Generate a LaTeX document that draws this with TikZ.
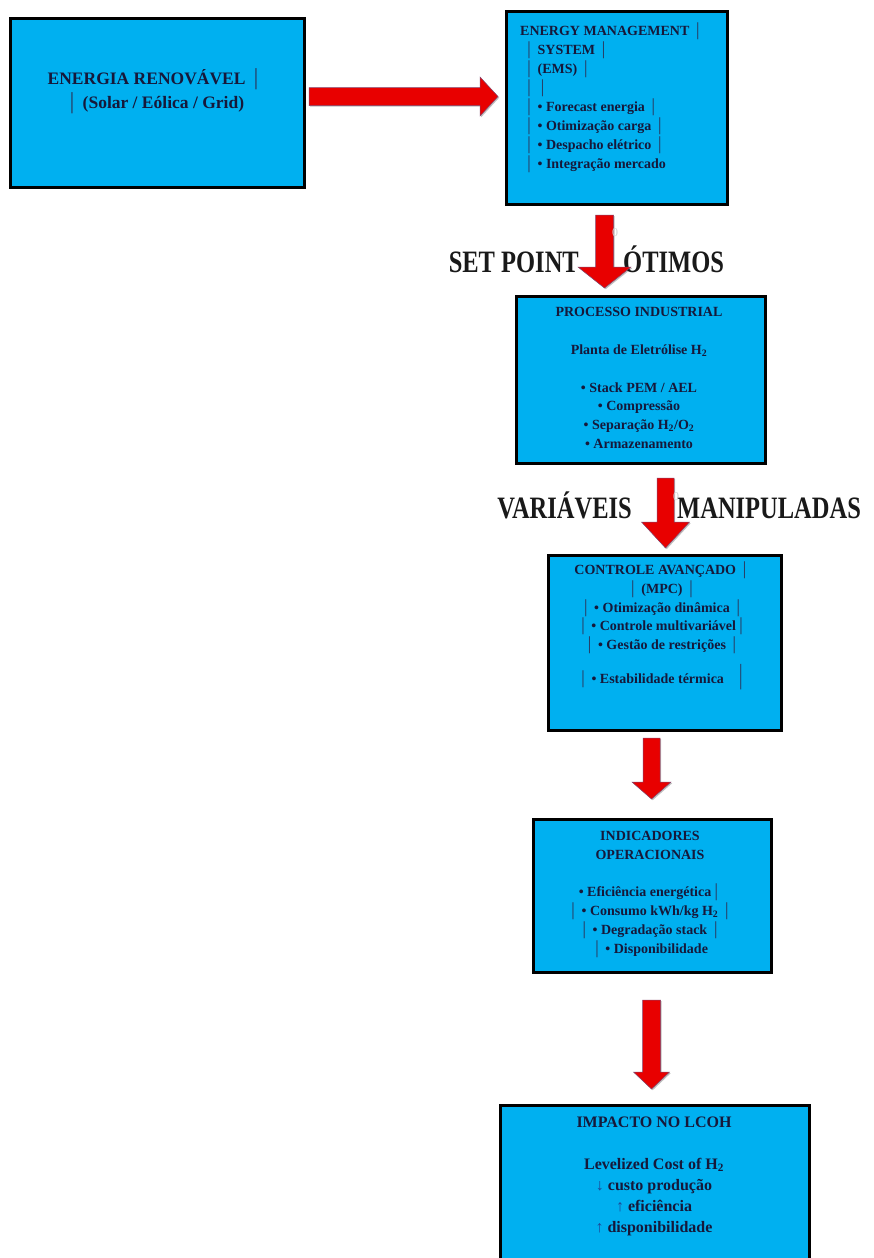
\documentclass[tikz,border=0pt]{standalone}
\usepackage{fontspec}
\setmainfont{Liberation Serif}
\usetikzlibrary{calc,shadows}
\definecolor{boxfill}{RGB}{0,176,240}
\definecolor{txtc}{RGB}{22,24,58}
\definecolor{barc}{RGB}{40,60,100}
\definecolor{arrc}{RGB}{30,70,150}
\definecolor{arrred}{RGB}{232,0,0}
\definecolor{arredge}{RGB}{130,70,110}
\newcommand\vbr{{\mdseries\color{barc}│}}
\newcommand\arrdn{{\mdseries\color{arrc}↓}}
\newcommand\arrup{{\mdseries\color{arrc}↑}}
\newcommand\subtwo{\textsubscript{2}}
\begin{document}
\begin{tikzpicture}[x=1pt,y=-1pt,
 box/.style={draw=black,line width=3pt,fill=boxfill,inner sep=0pt,anchor=north west},
 txt/.style={text=txtc,font=\bfseries\fontsize{14}{18.8}\selectfont,inner sep=0pt,align=center,anchor=base},
 lbl/.style={text=black!90,font=\bfseries\fontsize{24.5}{28}\selectfont,inner sep=0pt},
 zer/.style={text=gray!35,font=\fontsize{12}{12}\selectfont,inner sep=0pt},
 blk/.style={fill=arrred,draw=arredge,line width=0.5pt,drop shadow={shadow xshift=1.2pt,shadow yshift=-1.2pt,fill=black,opacity=0.25}},
 darr/.style n args={3}{blk,to path={($(\tikztostart)+(-#1,0pt)$) -- ($(\tikztotarget)+(-#1,#3)$) -- ($(\tikztotarget)+(-#2,#3)$) -- (\tikztotarget) -- ($(\tikztotarget)+(#2,#3)$) -- ($(\tikztotarget)+(#1,#3)$) -- ($(\tikztostart)+(#1,0pt)$) -- cycle}},
 rarr/.style n args={3}{blk,to path={($(\tikztostart)+(0pt,#1)$) -- ($(\tikztotarget)+(-#3,#1)$) -- ($(\tikztotarget)+(-#3,#2)$) -- (\tikztotarget) -- ($(\tikztotarget)+(-#3,-#2)$) -- ($(\tikztotarget)+(-#3,-#1)$) -- ($(\tikztostart)+(0pt,-#1)$) -- cycle}},
]
\useasboundingbox (0,0) rectangle (873,1258);
\fill[white] (0,0) rectangle (873,1258);

% boxes
\node[box,minimum width=294pt,minimum height=169pt] (b1) at (8.5,16.5) {};
\node[box,minimum width=221pt,minimum height=193pt] (b2) at (504.5,9.5) {};
\node[box,minimum width=249pt,minimum height=167pt] (b3) at (514.5,294.5) {};
\node[box,minimum width=233pt,minimum height=175pt] (b4) at (546.5,553.5) {};
\node[box,minimum width=238pt,minimum height=153pt] (b5) at (531.5,817.5) {};
\node[box,minimum width=309pt,minimum height=200pt] (b6) at (498.5,1103.5) {};

% texts (anchored at the baseline of their last line)
\node[txt,font=\bfseries\fontsize{17.5}{24}\selectfont] (t1) at (155,108)
 {ENERGIA RENOVÁVEL \vbr\\\vbr{} (Solar / Eólica / Grid)};
\node[txt,font=\bfseries\fontsize{14}{19}\selectfont,align=left,anchor=base west] (t2) at (520,168)
 {ENERGY MANAGEMENT \vbr\\
  \hspace*{4pt}\vbr{} SYSTEM \vbr\\
  \hspace*{4pt}\vbr{} (EMS) \vbr\\
  \hspace*{4pt}\vbr{} \vbr\\
  \hspace*{4pt}\vbr{} • Forecast energia \vbr\\
  \hspace*{4pt}\vbr{} • Otimização carga \vbr\\
  \hspace*{4pt}\vbr{} • Despacho elétrico \vbr\\
  \hspace*{4pt}\vbr{} • Integração mercado};
\node[txt] (t3) at (639,448.5)
 {PROCESSO INDUSTRIAL\\[18.8pt]Planta de Eletrólise H\subtwo\\[18.8pt]• Stack PEM / AEL\\• Compressão\\• Separação H\subtwo/O\subtwo\\• Armazenamento};
\node[txt] (t4) at (662,683)
 {CONTROLE AVANÇADO \vbr\\\vbr{} (MPC) \vbr\\\vbr{} • Otimização dinâmica \vbr\\\vbr{} • Controle multivariável\vbr\\\vbr{} • Gestão de restrições \vbr\\[9pt]\vbr{} • Estabilidade térmica\hspace{12pt}\scalebox{1}[1.5]{\vbr}};
\node[txt] (t5) at (650,953)
 {INDICADORES\\OPERACIONAIS\\[18.8pt]• Eficiência energética\vbr\\\vbr{} • Consumo kWh/kg H\subtwo{} \vbr\\\vbr{} • Degradação stack \vbr\\\vbr{} • Disponibilidade};
\node[txt,font=\bfseries\fontsize{16}{21}\selectfont] (t6) at (654,1232)
 {IMPACTO NO LCOH\\[21pt]Levelized Cost of H\subtwo\\\arrdn{} custo produção\\\arrup{} eficiência\\\arrup{} disponibilidade};

% labels
\node[lbl,anchor=base east] (l1) at (579,272) {\scalebox{1}[1.27]{SET POINT}};
\node[lbl,anchor=base west] (l2) at (623,272) {\scalebox{1}[1.27]{ÓTIMOS}};
\node[lbl,anchor=base east] (l3) at (632,518) {\scalebox{1}[1.27]{VARIÁVEIS}};
\node[lbl,anchor=base west] (l4) at (677,518) {\scalebox{1}[1.27]{MANIPULADAS}};

% arrows
\coordinate (a1s) at ([xshift=3.5pt,yshift=6pt]b1.east);
\coordinate (a1e) at ($(b2.west |- a1s)+(-6.5pt,0pt)$);
\draw[rarr={9pt}{19.5pt}{18pt}] (a1s) to (a1e);

\coordinate (a2s) at ([xshift=-12pt,yshift=-9.5pt]b2.south);
\coordinate (a2e) at ($(a2s |- b3.north)+(0pt,6.5pt)$);
\draw[darr={9pt}{26.5pt}{21pt}] (a2s) to (a2e);

\coordinate (a3s) at ([xshift=25pt,yshift=-13.5pt]b3.south);
\coordinate (a3e) at ($(a3s |- b4.north)+(0pt,5.5pt)$);
\draw[darr={8.5pt}{24pt}{26pt}] (a3s) to (a3e);

\coordinate (a4s) at ([xshift=-13pt,yshift=-6.5pt]b4.south);
\coordinate (a4e) at ($(a4s |- b5.north)+(0pt,18.5pt)$);
\draw[darr={8.5pt}{19.5pt}{17pt}] (a4s) to (a4e);

\coordinate (a5s) at ([xshift=-0.5pt,yshift=-26.5pt]b5.south);
\coordinate (a5e) at ($(a5s |- b6.north)+(0pt,14.5pt)$);
\draw[darr={9pt}{18pt}{17pt}] (a5s) to (a5e);

% faint zeros
\node[zer] (z1) at (615,233) {0};
\node[zer] (z2) at (676,497) {0};
\end{tikzpicture}
\end{document}
